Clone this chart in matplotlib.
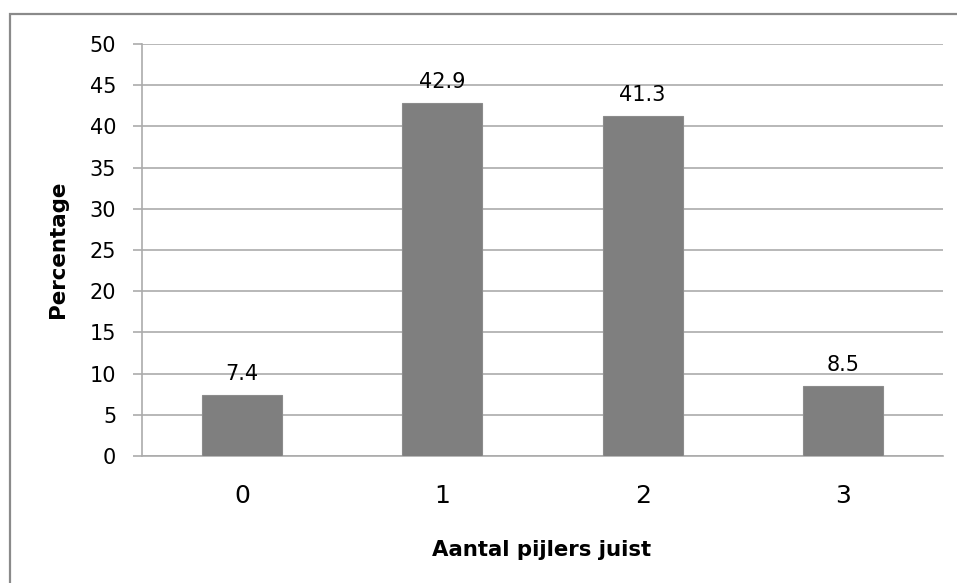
import matplotlib
matplotlib.use("Agg")
from matplotlib import pyplot as plt
from matplotlib.patches import Rectangle

# Aandeel respondenten per aantal juiste pijlers
categories = ["0", "1", "2", "3"]
percentages = [7.4, 42.9, 41.3, 8.5]
y_ticks = list(range(0, 51, 5))


def main():
    plt.rcParams["font.family"] = "DejaVu Sans"
    fig = plt.figure(figsize=(9.57, 5.83), dpi=100)
    ax = fig.add_axes([0.1484, 0.2178, 0.8370, 0.7067])

    x = range(len(categories))
    bars = ax.bar(x, percentages, width=0.4, color="#7f7f7f",
                  edgecolor="#8c8c8c", linewidth=0.8, zorder=3)
    for rect, val in zip(bars, percentages):
        ax.text(rect.get_x() + rect.get_width() / 2, val + 1.3, f"{val:.1f}",
                ha="center", va="bottom", fontsize=15, zorder=4)

    ax.set_xlim(-0.5, len(categories) - 0.5)
    ax.set_ylim(0, 50)
    ax.set_yticks(y_ticks)
    ax.set_xticks(list(x))
    ax.set_xticklabels(categories, fontsize=18)
    ax.tick_params(axis="y", labelsize=15, length=6.5, width=1.2,
                   color="#ababab", pad=12)
    ax.tick_params(axis="x", length=0, pad=20)

    ax.grid(axis="y", color="#ababab", linewidth=1.2, zorder=0)
    for side in ["top", "right"]:
        ax.spines[side].set_visible(False)
    for side in ["left", "bottom"]:
        ax.spines[side].set_color("#ababab")
        ax.spines[side].set_linewidth(1.2)

    fig.text(58 / 957, 1 - 249 / 583, "Percentage", rotation=90,
             ha="center", va="center", fontsize=15.4, fontweight="bold")
    fig.text(542 / 957, 1 - 550 / 583, "Aantal pijlers juist",
             ha="center", va="center", fontsize=15.3, fontweight="bold")

    # grijze rand rond de grafiek
    fig.patches.append(Rectangle((10 / 957, -0.1), 1.2, 1 - 14 / 583 + 0.1,
                                 transform=fig.transFigure, fill=False,
                                 edgecolor="#8a8a8a", linewidth=1.6))

    fig.savefig("out.png", dpi=100)


if __name__ == "__main__":
    main()
